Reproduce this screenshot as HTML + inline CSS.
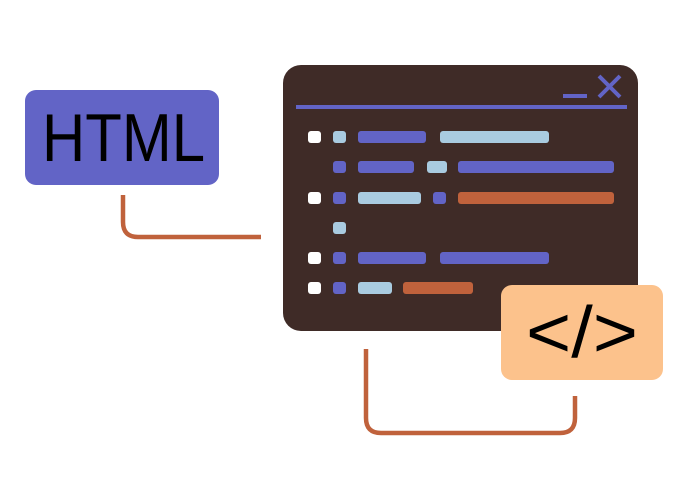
<!DOCTYPE html>
<html><head><meta charset="utf-8"><style>html,body{margin:0;padding:0;background:#fff}svg{display:block}</style></head>
<body>
<svg width="689" height="500" viewBox="0 0 689 500" xmlns="http://www.w3.org/2000/svg">
<g fill="none" stroke="#c0623c" stroke-width="4.5">
<path d="M123 195 V222 Q123 237 138 237 H261"/>
<path d="M366 349 V418 Q366 433 381 433 H560 Q575 433 575 418 V396"/>
</g>
<rect x="283" y="65" width="355" height="266" rx="18" fill="#3f2b27"/>
<rect x="296" y="105" width="331" height="4" fill="#6264c6"/>
<rect x="563" y="94" width="24" height="4" fill="#6264c6"/>
<path d="M599 76 L620 97 M620 76 L599 97" stroke="#6264c6" stroke-width="4"/>
<g>
<rect x="308" y="131" width="13" height="12" rx="3" fill="#fff"/>
<rect x="333" y="131" width="13" height="12" rx="3" fill="#a9cbe0"/>
<rect x="358" y="131" width="68" height="12" rx="3" fill="#6264c6"/>
<rect x="440" y="131" width="109" height="12" rx="3" fill="#a9cbe0"/>

<rect x="333" y="161" width="13" height="12" rx="3" fill="#6264c6"/>
<rect x="358" y="161" width="56" height="12" rx="3" fill="#6264c6"/>
<rect x="427" y="161" width="20" height="12" rx="3" fill="#a9cbe0"/>
<rect x="458" y="161" width="156" height="12" rx="3" fill="#6264c6"/>

<rect x="308" y="192" width="13" height="12" rx="3" fill="#fff"/>
<rect x="333" y="192" width="13" height="12" rx="3" fill="#6264c6"/>
<rect x="358" y="192" width="63" height="12" rx="3" fill="#a9cbe0"/>
<rect x="433" y="192" width="13" height="12" rx="3" fill="#6264c6"/>
<rect x="458" y="192" width="156" height="12" rx="3" fill="#c0623c"/>

<rect x="333" y="222" width="13" height="12" rx="3" fill="#a9cbe0"/>

<rect x="308" y="252" width="13" height="12" rx="3" fill="#fff"/>
<rect x="333" y="252" width="13" height="12" rx="3" fill="#6264c6"/>
<rect x="358" y="252" width="68" height="12" rx="3" fill="#6264c6"/>
<rect x="440" y="252" width="109" height="12" rx="3" fill="#6264c6"/>

<rect x="308" y="282" width="13" height="12" rx="3" fill="#fff"/>
<rect x="333" y="282" width="13" height="12" rx="3" fill="#6264c6"/>
<rect x="358" y="282" width="34" height="12" rx="3" fill="#a9cbe0"/>
<rect x="403" y="282" width="70" height="12" rx="3" fill="#c0623c"/>
</g>
<rect x="25" y="90" width="194" height="95" rx="11" fill="#6264c6"/>
<text x="42" y="161" font-family="Liberation Sans, sans-serif" font-size="68" textLength="163" lengthAdjust="spacingAndGlyphs" fill="#000">HTML</text>
<rect x="501" y="285" width="162" height="95" rx="11" fill="#fcc28c"/>
<text x="526" y="357" font-family="Liberation Sans, sans-serif" font-size="72" textLength="112" lengthAdjust="spacingAndGlyphs" fill="#000">&lt;/&gt;</text>
</svg>
</body></html>
